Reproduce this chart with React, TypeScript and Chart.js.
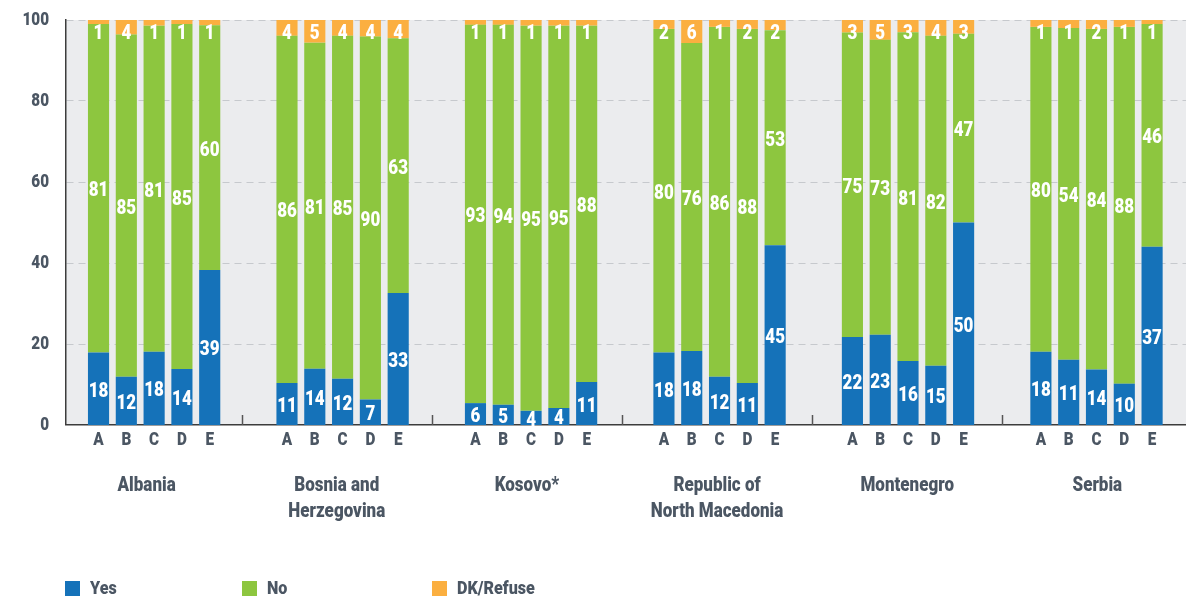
import React, { useEffect, useRef } from "react";
import { Chart, registerables } from "chart.js";

Chart.register(...registerables);

// ---------------- data ----------------
const countries: string[][] = [
  ["Albania"],
  ["Bosnia and", "Herzegovina"],
  ["Kosovo*"],
  ["Republic of", "North Macedonia"],
  ["Montenegro"],
  ["Serbia"],
];
const letters = ["A", "B", "C", "D", "E"];
const seriesNames = ["Yes", "No", "DK/Refuse"];

// bar heights (%) as drawn in the picture, 5 bars (A–E) per country
const yesValues = [
  17.9, 11.9, 18.1, 13.8, 38.3,
  10.4, 13.9, 11.4, 6.3, 32.6,
  5.4, 5.0, 3.5, 4.2, 10.6,
  17.9, 18.3, 11.9, 10.4, 44.4,
  21.7, 22.3, 15.8, 14.6, 50.0,
  18.1, 16.1, 13.7, 10.2, 44.0,
];
const noValues = [
  81.1, 84.5, 80.5, 85.2, 60.4,
  85.7, 80.5, 84.7, 89.6, 62.9,
  93.4, 93.8, 95.1, 94.4, 88.0,
  79.9, 76.0, 86.4, 87.4, 53.1,
  75.2, 72.8, 81.2, 81.5, 46.6,
  80.2, 81.9, 84.1, 88.1, 55.0,
];
const dkValues = [
  1.0, 3.6, 1.4, 1.0, 1.3,
  3.9, 5.6, 3.9, 4.1, 4.5,
  1.2, 1.2, 1.4, 1.4, 1.4,
  2.2, 5.7, 1.7, 2.2, 2.5,
  3.1, 4.9, 3.0, 3.9, 3.4,
  1.7, 2.0, 2.2, 1.7, 1.0,
];

// numbers printed on the bars
const yesLabels = [
  18, 12, 18, 14, 39,
  11, 14, 12, 7, 33,
  6, 5, 4, 4, 11,
  18, 18, 12, 11, 45,
  22, 23, 16, 15, 50,
  18, 11, 14, 10, 37,
];
const noLabels = [
  81, 85, 81, 85, 60,
  86, 81, 85, 90, 63,
  93, 94, 95, 95, 88,
  80, 76, 86, 88, 53,
  75, 73, 81, 82, 47,
  80, 54, 84, 88, 46,
];
const dkLabels = [
  1, 4, 1, 1, 1,
  4, 5, 4, 4, 4,
  1, 1, 1, 1, 1,
  2, 6, 1, 2, 2,
  3, 5, 3, 4, 3,
  1, 1, 2, 1, 1,
];

// ---------------- styling / layout ----------------
const FONT = 'Roboto, "DejaVu Sans", sans-serif';
const WEIGHT = "900";
const TEXT_SCALE_X = 0.85; // condensed look
const COLORS = ["#1572B9", "#8DC63F", "#FBAF40"];
const TEXT = "#4B5663";
const AXIS = "#3C3C3C";
const GRID = "#C6C9CD";
const PLOT_BG = "#EBECEE";

const GROUP_STEP = 6.78; // slot units between groups
const SEP_STEP = 6.84;
const SEP_OFFSET = 5.15;
const X_MIN = -1.17;
const X_MAX = 39.12;

const xPositions: number[] = [];
countries.forEach((_, g) => letters.forEach((__, b) => xPositions.push(g * GROUP_STEP + b)));

const valueSets = [yesValues, noValues, dkValues];
const labelSets = [yesLabels, noLabels, dkLabels];

const sepValue = (g: number) => g * SEP_STEP + SEP_OFFSET;
const groupCenterValue = (g: number) => g * SEP_STEP + SEP_OFFSET - SEP_STEP / 2;

const decorPlugin = {
  id: "decor",
  beforeDraw(chart: any) {
    const { ctx, chartArea: a } = chart;
    ctx.save();
    ctx.fillStyle = PLOT_BG;
    ctx.fillRect(a.left, a.top, a.right - a.left, a.bottom - a.top);
    ctx.restore();
  },
  afterDatasetsDraw(chart: any) {
    const { ctx, chartArea: a } = chart;
    const yScale = chart.scales.y;
    const xScale = chart.scales.x;
    ctx.save();
    ctx.fillStyle = "#FFFFFF";
    ctx.font = `${WEIGHT} 20px ${FONT}`;
    ctx.textAlign = "center";
    ctx.textBaseline = "middle";
    labelSets.forEach((labels, i) => {
      const meta = chart.getDatasetMeta(i);
      meta.data.forEach((el: any, j: number) => {
        let y: number;
        if (i === 2) y = yScale.getPixelForValue(100) + 14;
        else y = (el.y + el.base) / 2 + 3;
        ctx.fillText(String(labels[j]), el.x, y);
      });
    });
    // group separators (short ticks up from the axis)
    ctx.strokeStyle = "#555555";
    ctx.lineWidth = 1.5;
    for (let g = 0; g < countries.length - 1; g++) {
      const x = Math.round(xScale.getPixelForValue(sepValue(g))) + 0.5;
      ctx.beginPath();
      ctx.moveTo(x, a.bottom - 10);
      ctx.lineTo(x, a.bottom);
      ctx.stroke();
    }
    ctx.restore();
  },
  afterDraw(chart: any) {
    const { ctx, chartArea: a } = chart;
    const xScale = chart.scales.x;
    ctx.save();
    // country names
    ctx.fillStyle = TEXT;
    ctx.font = `${WEIGHT} 20px ${FONT}`;
    ctx.textAlign = "center";
    ctx.textBaseline = "middle";
    countries.forEach((lines, g) => {
      const cx = xScale.getPixelForValue(groupCenterValue(g));
      lines.forEach((line, k) => {
        ctx.fillText(line, cx, a.bottom + 61 + k * 26);
      });
    });
    // legend
    const legendX = [a.left - 1, xScale.getPixelForValue(sepValue(0)), xScale.getPixelForValue(sepValue(1))];
    ctx.font = `${WEIGHT} 19px ${FONT}`;
    ctx.textAlign = "left";
    seriesNames.forEach((name, i) => {
      const x = Math.round(legendX[i]);
      ctx.fillStyle = COLORS[i];
      ctx.fillRect(x, 581, 15, 15);
      ctx.fillStyle = TEXT;
      ctx.fillText(name, x + 25, 589);
    });
    ctx.restore();
  },
};

export default function App() {
  const canvasRef = useRef<HTMLCanvasElement | null>(null);

  useEffect(() => {
    const canvas = canvasRef.current;
    if (!canvas) return;
    const ctx2d = canvas.getContext("2d") as any;
    // narrow all text horizontally around its anchor point (condensed type)
    const origFill = CanvasRenderingContext2D.prototype.fillText;
    ctx2d.fillText = function (text: string, x: number, y: number, maxWidth?: number) {
      this.save();
      this.translate(x, y);
      this.scale(TEXT_SCALE_X, 1);
      if (maxWidth !== undefined) origFill.call(this, text, 0, 0, maxWidth / TEXT_SCALE_X);
      else origFill.call(this, text, 0, 0);
      this.restore();
    };

    Chart.defaults.font.family = FONT;
    const chart = new Chart(canvas, {
      type: "bar",
      data: {
        datasets: seriesNames.map((name, i) => ({
          label: name,
          data: valueSets[i].map((v, j) => ({ x: xPositions[j], y: v })),
          backgroundColor: COLORS[i],
          borderWidth: 0,
          barPercentage: 0.76,
          categoryPercentage: 1,
        })),
      },
      options: {
        animation: false,
        responsive: false,
        devicePixelRatio: 1,
        layout: { autoPadding: false, padding: { top: 20, right: 0, bottom: 0, left: 0 } },
        plugins: {
          legend: { display: false },
          tooltip: { enabled: false },
        },
        scales: {
          x: {
            type: "linear",
            stacked: true,
            offset: false,
            min: X_MIN,
            max: X_MAX,
            z: 1,
            grid: { display: true, drawOnChartArea: false, drawTicks: false },
            border: { display: true, color: AXIS, width: 1.5 },
            ticks: {
              autoSkip: false,
              maxRotation: 0,
              padding: 5,
              color: TEXT,
              font: { family: FONT, size: 18, weight: WEIGHT },
              callback: (_v: any, i: number) => letters[i % letters.length],
            },
            afterBuildTicks: (s: any) => {
              s.ticks = xPositions.map((v) => ({ value: v }));
            },
            afterFit: (s: any) => {
              s.height = 172;
              s.paddingLeft = 0;
              s.paddingRight = 0;
            },
          },
          y: {
            stacked: true,
            min: 0,
            max: 100,
            ticks: {
              stepSize: 20,
              padding: 17,
              color: TEXT,
              font: { family: FONT, size: 18, weight: WEIGHT },
            },
            grid: {
              color: GRID,
              drawTicks: false,
              lineWidth: (c: any) => (c.tick && c.tick.value === 0 ? 0 : 1),
            },
            border: { display: true, color: AXIS, width: 1.5, dash: [7, 5] },
            afterFit: (s: any) => {
              s.width = 66;
              s.paddingTop = 10;
              s.paddingBottom = 10;
            },
          },
        },
      } as any,
      plugins: [decorPlugin],
    });
    return () => chart.destroy();
  }, []);

  return (
    <div style={{ position: "absolute", left: 0, top: 0, width: 1186, height: 597, background: "#FFFFFF" }}>
      <canvas ref={canvasRef} width={1186} height={597} style={{ display: "block" }} />
    </div>
  );
}
